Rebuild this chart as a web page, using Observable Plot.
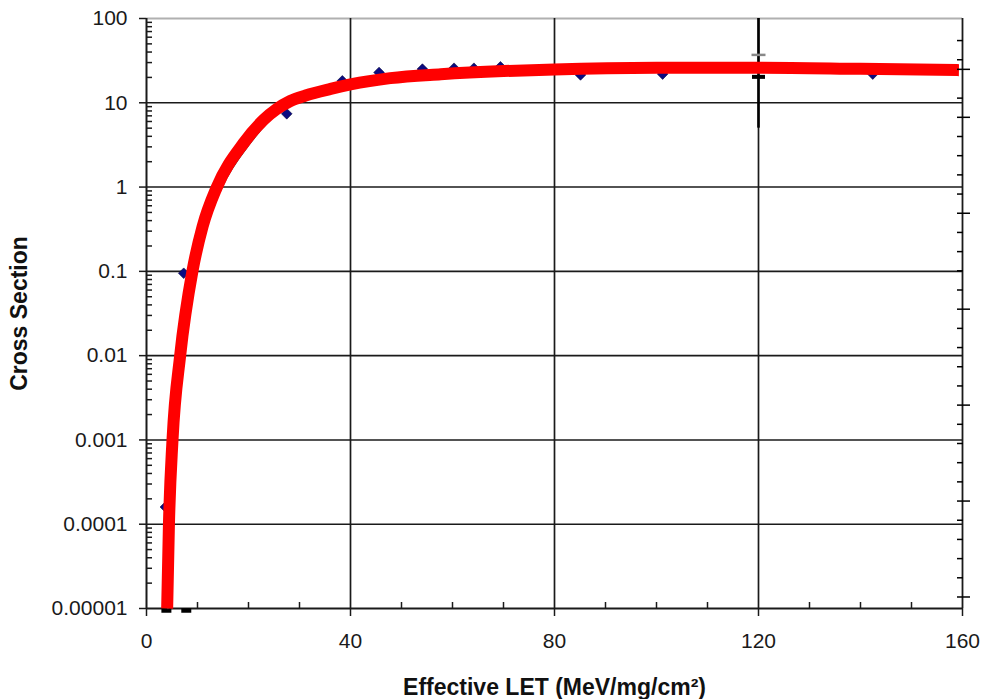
<!DOCTYPE html>
<html><head><meta charset="utf-8">
<script src="https://cdn.jsdelivr.net/npm/d3@7"></script>
<script src="https://cdn.jsdelivr.net/npm/@observablehq/plot@0.6"></script>
<style>
html,body{margin:0;padding:0;background:#fff;}
#wrap{position:relative;width:983px;height:699px;overflow:hidden;}
#wrap svg{position:absolute;left:0;top:0;}
</style></head><body><div id="wrap"></div>
<script>
// ---- axis ticks & labels ----
const xTicks = [0, 40, 80, 120, 160];
const xTickLabels = ["0", "40", "80", "120", "160"];
const xMinorTicks = [10, 20, 30, 50, 60, 70, 90, 100, 110, 130, 140, 150];
const xGrid = [40, 80, 120];
const yTicks = [1e-5, 1e-4, 1e-3, 1e-2, 1e-1, 1, 10, 100];
const yTickLabels = ["0.00001", "0.0001", "0.001", "0.01", "0.1", "1", "10", "100"];
const yMinorMultipliers = [2, 3, 4, 5, 6, 7, 8, 9];
const xTitle = "Effective LET (MeV/mg/cm²)";
const yTitle = "Cross Section";

// secondary (right-hand) axis ticks of the original figure
const rightMajor = [0, 1, 2, 3, 4, 5, 5.5];
const rightMinor = [0.2, 0.4, 0.6, 0.8, 1.2, 1.4, 1.6, 1.8, 2.2, 2.4, 2.6, 2.8,
                    3.2, 3.4, 3.6, 3.8, 4.2, 4.4, 4.6, 4.8, 5.2, 5.6, 5.8];

// ---- measured data points (blue diamonds) ----
const pointLET   = [3.7, 7.3, 15.5, 27.5, 38.4, 45.6, 54.1, 60.3, 64.2, 69.4, 85.1, 101.2, 120, 142.4];
const pointSigma = [1.6e-4, 0.095, 1.6, 7.4, 18.2, 22.9, 25.1, 25.7, 25.7, 26.7, 21.4, 21.9, 26, 21.9];

// ---- zero-event points at the floor (black) ----
const zeroLET   = [3.9, 7.8];
const zeroSigma = [1e-5, 1e-5];

// ---- error bar at LET 120 ----
const errLET = [120];
const errLow = [20.3];
const errHigh = [37];
const errSpanLow = [5];
const errSpanHigh = [100];

// ---- Weibull fit (red) ----
const fitLET   = [4.05, 4.4, 5.1, 6.6, 9.0, 11.0, 13.8, 19.0, 23.0, 25.5, 28.2, 31.2, 36.1, 40, 47.8, 57.7, 70, 80, 100, 120, 140, 159.3];
const fitSigma = [1e-5, 1e-4, 1e-3, 1e-2, 0.1, 0.34, 1.0, 3.3, 6.3, 8.4, 10.5, 12.2, 14.6, 16.5, 19.6, 21.8, 23.8, 24.9, 26.0, 26.1, 25.3, 24.4];

// ---- second (thin dark) fit ----
const fit2LET   = [4.2, 4.6, 5.35, 6.95, 9.5, 11.7, 14.8, 20.3, 24.3, 26.8, 29.5, 32.3, 37, 40.5, 46, 52, 60, 80, 100, 120, 140, 158];
const fit2Sigma = [1e-5, 1e-4, 1e-3, 1e-2, 0.1, 0.34, 1.0, 3.3, 6.3, 8.4, 10.5, 12.2, 14.8, 16.8, 19.5, 21.4, 22.9, 25.0, 26.0, 26.1, 25.3, 24.5];

// ---- build tables ----
const points = pointLET.map((x, i) => ({x, y: pointSigma[i]}));
const zeros = zeroLET.map((x, i) => ({x, y: zeroSigma[i]}));
const fit = fitLET.map((x, i) => ({x, y: fitSigma[i]}));
const fit2 = fit2LET.map((x, i) => ({x, y: fit2Sigma[i]}));
const errSpan = errLET.map((x, i) => ({x, y1: errSpanLow[i], y2: errSpanHigh[i]}));
const errCapsHigh = errLET.map((x, i) => ({x, y: errHigh[i]}));
const errCapsLow = errLET.map((x, i) => ({x, y: errLow[i]}));
const yMinorTicks = yTicks.slice(0, -1).flatMap(d => yMinorMultipliers.map(m => m * d));

const hbar = {draw(ctx, size) { const w = Math.sqrt(size / Math.PI); ctx.moveTo(-w, 0); ctx.lineTo(w, 0); }};
const wbar = {draw(ctx, size) { const w = Math.sqrt(size / Math.PI); ctx.rect(-w, -w * 0.45, 2 * w, w * 0.9); }};

const font = "'Liberation Sans', Arial, Helvetica, sans-serif";
const M = {width: 983, height: 699, marginLeft: 146, marginRight: 21, marginTop: 18, marginBottom: 91};
const ink = "#1a1a1a";

const main = Plot.plot({
  ...M,
  style: {fontFamily: font, fontSize: "21px", color: ink, background: "transparent"},
  x: {domain: [0, 160]},
  y: {type: "log", domain: [1e-5, 100]},
  marks: [
    Plot.ruleY(yTicks.slice(1, -1), {stroke: ink, strokeWidth: 1.6}),
    Plot.ruleY([100], {stroke: "#b0b0b0", strokeWidth: 2}),
    Plot.ruleX(xGrid, {stroke: ink, strokeWidth: 1.7}),
    Plot.ruleX([160], {stroke: ink, strokeWidth: 1.8}),
    Plot.ruleY([1e-5], {stroke: ink, strokeWidth: 2}),
    Plot.ruleX([0], {stroke: ink, strokeWidth: 2}),
    Plot.axisY({ticks: yTicks, tickFormat: d => yTickLabels[yTicks.indexOf(d)], tickSize: 7, tickPadding: 12, fontSize: 21, label: null, strokeWidth: 1.5}),
    Plot.axisY({ticks: yMinorTicks, tickSize: 6, dx: 6, tickFormat: () => "", label: null, strokeWidth: 1.5}),
    Plot.axisX({ticks: xTicks, tickFormat: d => xTickLabels[xTicks.indexOf(d)], tickSize: 8, tickPadding: 17, fontSize: 21, label: null, strokeWidth: 1.5}),
    Plot.axisX({ticks: xMinorTicks, tickSize: 6, dy: -6, tickFormat: () => "", label: null, strokeWidth: 1.5}),
    Plot.ruleX(errSpan, {x: "x", y1: "y1", y2: "y2", stroke: "#000", strokeWidth: 2.6}),
    Plot.dot(errCapsHigh, {x: "x", y: "y", symbol: hbar, r: 7, stroke: "#888", strokeWidth: 2.5, fill: "none"}),
    Plot.dot(errCapsLow, {x: "x", y: "y", symbol: hbar, r: 6.5, stroke: "#000", strokeWidth: 4, fill: "none"}),
    Plot.dot(points, {x: "x", y: "y", symbol: "diamond2", r: 4.8, fill: "#0b0b80", stroke: "#06063a", strokeWidth: 0.6}),
    Plot.dot(zeros, {x: "x", y: "y", symbol: wbar, r: 5, dy: 2, fill: "#000"}),
    Plot.line(fit2, {x: "x", y: "y", stroke: "#333", strokeWidth: 1.6, curve: "monotone-x"}),
    Plot.line(fit, {x: "x", y: "y", stroke: "#ff0000", strokeWidth: 12, curve: "monotone-x", strokeLinecap: "butt", strokeLinejoin: "round"}),
    Plot.text([yTitle], {frameAnchor: "left", dx: -127, rotate: -90, textAnchor: "middle", lineAnchor: "middle", fontSize: 23, fontWeight: "bold", fill: "#111"}),
    Plot.text([xTitle], {frameAnchor: "bottom", dy: 79, textAnchor: "middle", lineAnchor: "middle", fontSize: 23, fontWeight: "bold", fill: "#111"})
  ]
});

const right = Plot.plot({
  ...M,
  style: {background: "transparent"},
  y: {domain: [-0.12, 6.03]},
  marks: [
    Plot.axisY({anchor: "right", ticks: rightMajor, tickSize: 7, tickFormat: () => "", label: null, strokeWidth: 1.5}),
    Plot.axisY({anchor: "right", ticks: rightMajor.concat(rightMinor), tickSize: 6, dx: -6, tickFormat: () => "", label: null, strokeWidth: 1.5})
  ]
});
right.style.pointerEvents = "none";

const wrap = document.getElementById("wrap");
wrap.appendChild(main);
wrap.appendChild(right);
</script>
</body></html>
